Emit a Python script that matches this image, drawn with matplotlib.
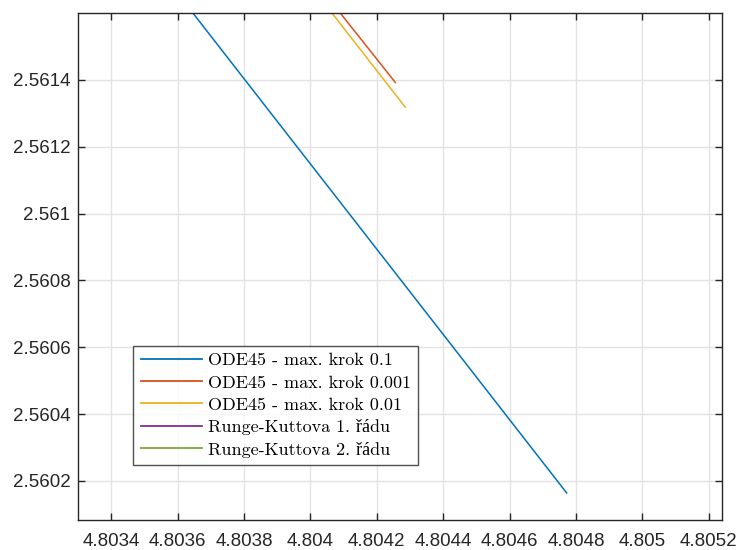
import matplotlib
matplotlib.use("Agg")
import matplotlib.pyplot as plt

# Data (visible segments)
ode45_01_x = [4.803646, 4.804772]
ode45_01_y = [2.561600, 2.560164]
ode45_0001_x = [4.804090, 4.804256]
ode45_0001_y = [2.561600, 2.561392]
ode45_001_x = [4.804065, 4.804286]
ode45_001_y = [2.561600, 2.561318]
rk1_x, rk1_y = [], []
rk2_x, rk2_y = [], []

labels = ["ODE45 - max. krok 0.1", "ODE45 - max. krok 0.001", "ODE45 - max. krok 0.01",
          "Runge-Kuttova 1. řádu", "Runge-Kuttova 2. řádu"]
colors = ["#0072BD", "#D95319", "#EDB120", "#7E2F8E", "#77AC30"]

xticks = [4.8034, 4.8036, 4.8038, 4.8040, 4.8042, 4.8044, 4.8046, 4.8048, 4.8050, 4.8052]
xticklabels = ["4.8034", "4.8036", "4.8038", "4.804", "4.8042", "4.8044", "4.8046", "4.8048", "4.805", "4.8052"]
yticks = [2.5602, 2.5604, 2.5606, 2.5608, 2.5610, 2.5612, 2.5614]
yticklabels = ["2.5602", "2.5604", "2.5606", "2.5608", "2.561", "2.5612", "2.5614"]

plt.rcParams['font.family'] = ['Liberation Sans', 'DejaVu Sans']

fig = plt.figure(figsize=(7.43, 5.5), dpi=100)
ax = fig.add_axes([78/743, 30/550, 644/743, 507/550])

series = [(ode45_01_x, ode45_01_y), (ode45_0001_x, ode45_0001_y), (ode45_001_x, ode45_001_y),
          (rk1_x, rk1_y), (rk2_x, rk2_y)]
for (xs, ys), c, lab in zip(series, colors, labels):
    ax.plot(xs, ys, color=c, lw=1.1, label=lab)

ax.set_xlim(4.80330, 4.80524)
ax.set_ylim(2.560083, 2.56160)
ax.set_xticks(xticks)
ax.set_xticklabels(xticklabels)
ax.set_yticks(yticks)
ax.set_yticklabels(yticklabels)

ax.grid(True, color="#e3e3e3", lw=1.0)
ax.set_axisbelow(True)
for s in ax.spines.values():
    s.set_color("#262626")
    s.set_linewidth(1.0)
ax.tick_params(direction="in", length=5, width=1.0, colors="#262626",
               top=True, right=True, labelsize=13.5)
ax.tick_params(axis="x", pad=9)
ax.tick_params(axis="y", pad=5.5)
for lbl in ax.get_xticklabels() + ax.get_yticklabels():
    lbl.set_color("#262626")

leg = ax.legend(loc="lower left", bbox_to_anchor=(0.0859, 0.1085), borderaxespad=0,
                prop={"family": ["cmr10", "Liberation Serif"], "size": 13},
                frameon=True, fancybox=False, edgecolor="#262626",
                handlelength=3.4, labelspacing=0.36, borderpad=0.4, handletextpad=0.35)
leg.get_frame().set_linewidth(1.0)
for ln in leg.get_lines():
    ln.set_linewidth(1.3)

fig.savefig("out.png", dpi=100)
